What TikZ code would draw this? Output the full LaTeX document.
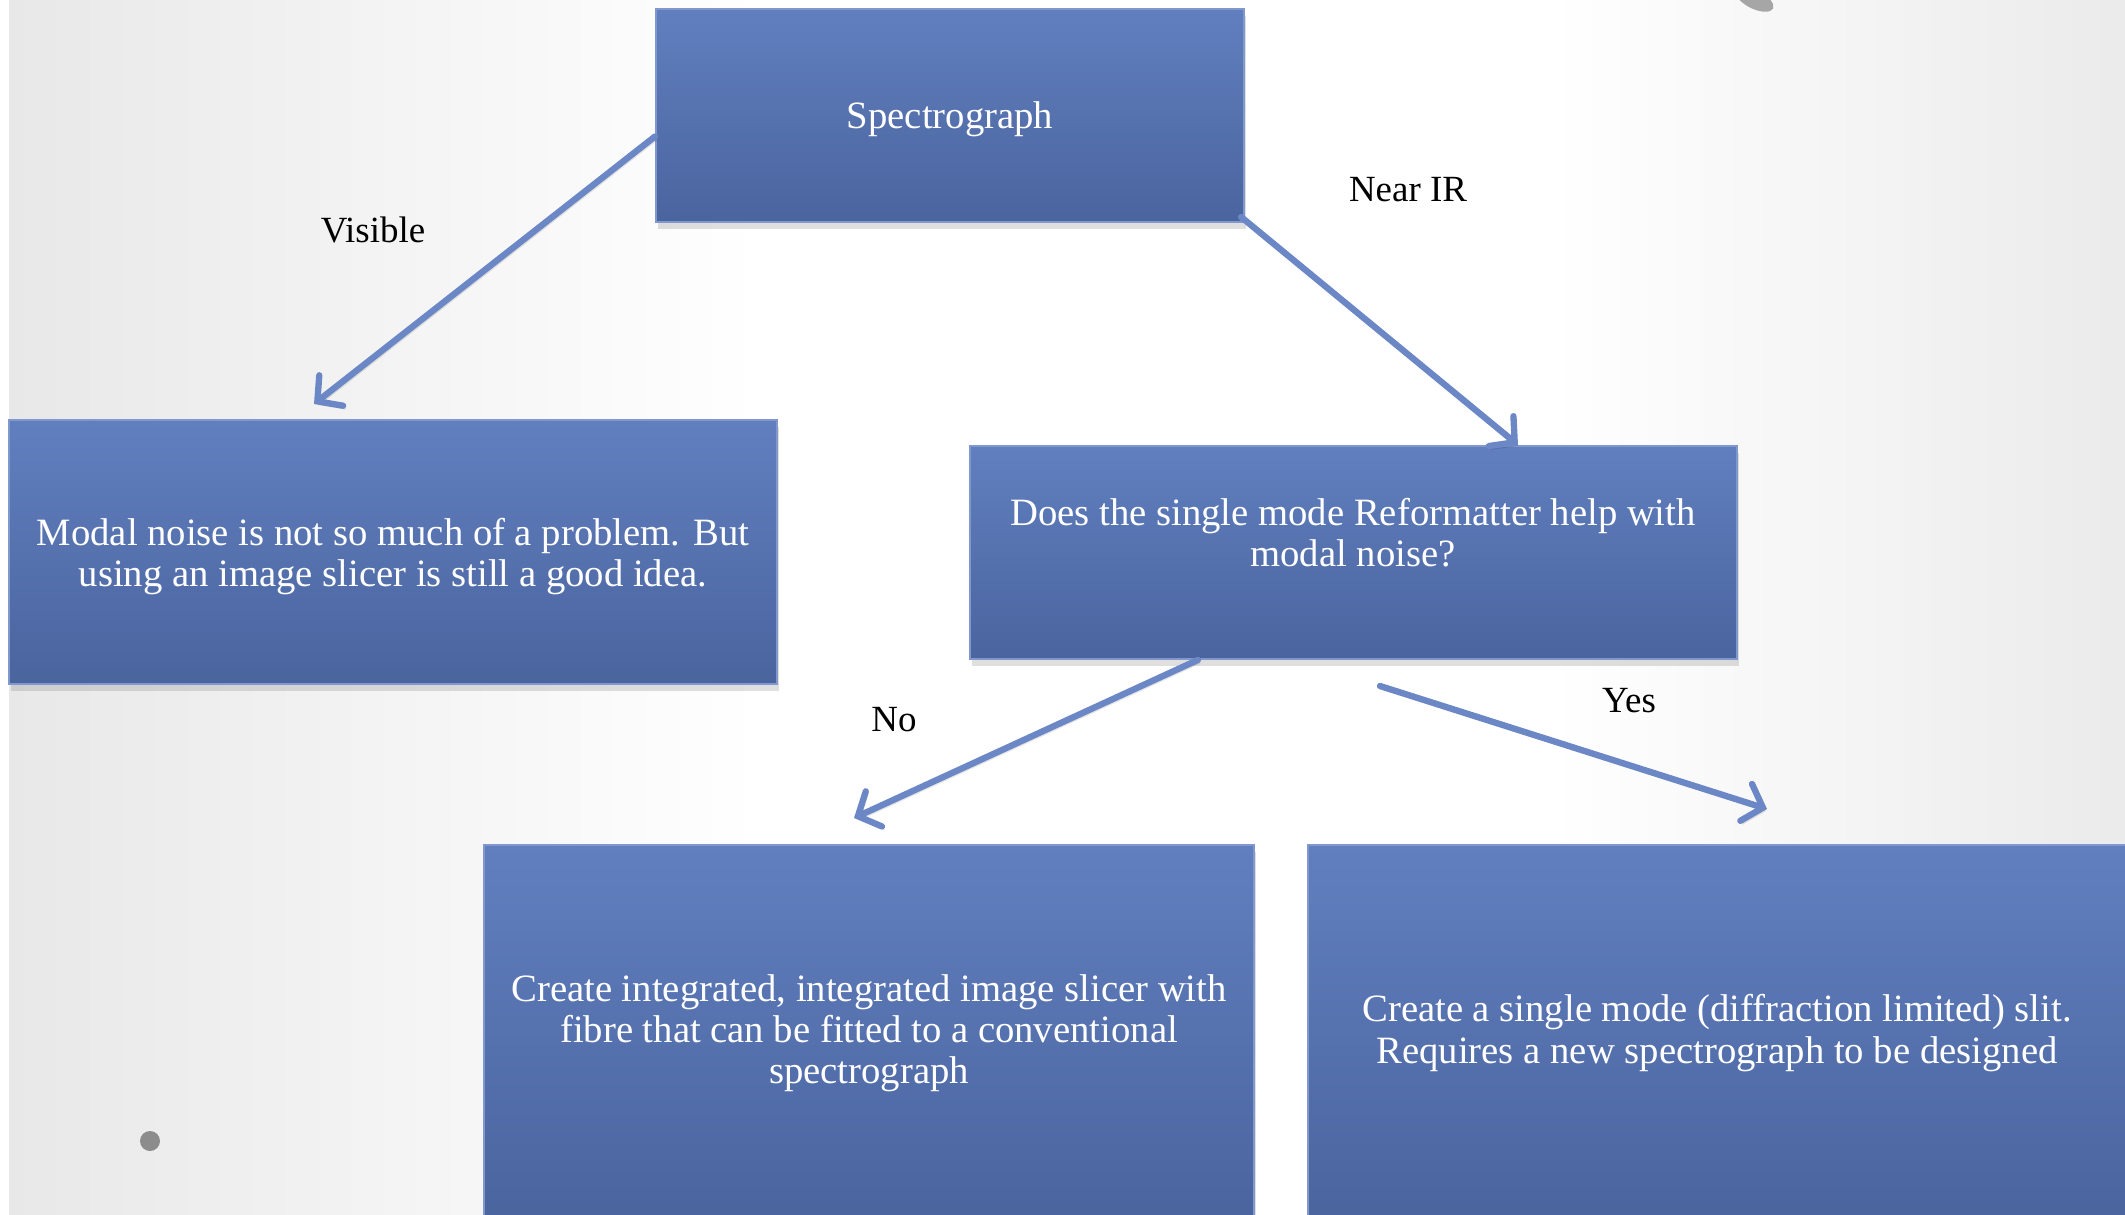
\documentclass[tikz,border=0pt]{standalone}
\usepackage{fontspec}
\setmainfont{Liberation Serif}
\usetikzlibrary{arrows.meta,shadows}
\definecolor{boxtop}{RGB}{97,127,191}
\definecolor{boxbot}{RGB}{74,100,158}
\definecolor{boxline}{RGB}{128,152,206}
\definecolor{arrowblue}{RGB}{107,135,197}
\tikzset{
  box/.style={rectangle, draw=boxline, line width=0.5pt, top color=boxtop, bottom color=boxbot,
    drop shadow={shadow xshift=0.6pt, shadow yshift=-2pt, opacity=0.25}},
  boxtext/.style={text=white, align=center, font=\fontsize{11}{11.7}\selectfont},
  branch/.style={draw=arrowblue, line width=1.8pt, line cap=round,
    -{Straight Barb[length=5pt,width=11pt,line cap=round]},
    preaction={draw=black, opacity=0.1, transform canvas={shift={(0.6pt,-0.9pt)}}}},
  answer/.style={font=\fontsize{10.5}{12}\selectfont}
}
\begin{document}
\begin{tikzpicture}[x=0.01cm,y=0.01cm]
\useasboundingbox (0,0) rectangle (2125,1214);
\fill[white] (0,0) rectangle (2125,1214);
\shade[left color=black!9, right color=white] (9,0) rectangle (760,1214);
\shade[left color=white, right color=black!8] (1550,0) rectangle (2125,1214);
\fill[black!45] (150,73) circle (10);
\fill[black!35, rotate around={-25:(1755,1214)}] (1755,1214) ellipse (20 and 9);

\node[box, boxtext, text depth=0pt, minimum width=5.88cm, minimum height=2.13cm] (spec) at (950,1098.5) {Spectrograph};
\node[box, boxtext, text depth=0pt, minimum width=7.68cm, minimum height=2.64cm] (modal) at (393,662)
  {Modal noise is not so much of a problem. But\\ using an image slicer is still a good idea.};
\node[box, minimum width=7.67cm, minimum height=2.13cm] (reform) at (1353.5,661.5) {};
\node[boxtext] (reformtext) at (1353,681) {Does the single mode Reformatter help with\\ modal noise?};
\node[box, boxtext, minimum width=7.70cm, minimum height=3.76cm] (integ) at (869,181)
  {Create integrated, integrated image slicer with\\ fibre that can be fitted to a conventional\\ spectrograph};
\node[box, boxtext, minimum width=8.18cm, minimum height=3.76cm] (single) at (1717,181)
  {Create a single mode (diffraction limited) slit.\\ Requires a new spectrograph to be designed};

\coordinate (visend) at (314,810);
\coordinate (nirend) at (1518,769);
\coordinate (noend) at (854,396);
\coordinate (yesfrom) at (1380,528);
\coordinate (yesend) at (1767,405);

\draw[branch] ([yshift=-0.21cm]spec.west) -- (visend);
\draw[branch] ([xshift=-0.04cm,yshift=0.06cm]spec.south east) -- (nirend);
\draw[branch] ([xshift=-1.555cm]reform.south) -- (noend);
\draw[branch] (yesfrom) -- (yesend);

\node[answer] at (373,984) {Visible};
\node[answer] at (1408,1024) {Near IR};
\node[answer] at (894,494) {No};
\node[answer] at (1629,513) {Yes};
\end{tikzpicture}
\end{document}
